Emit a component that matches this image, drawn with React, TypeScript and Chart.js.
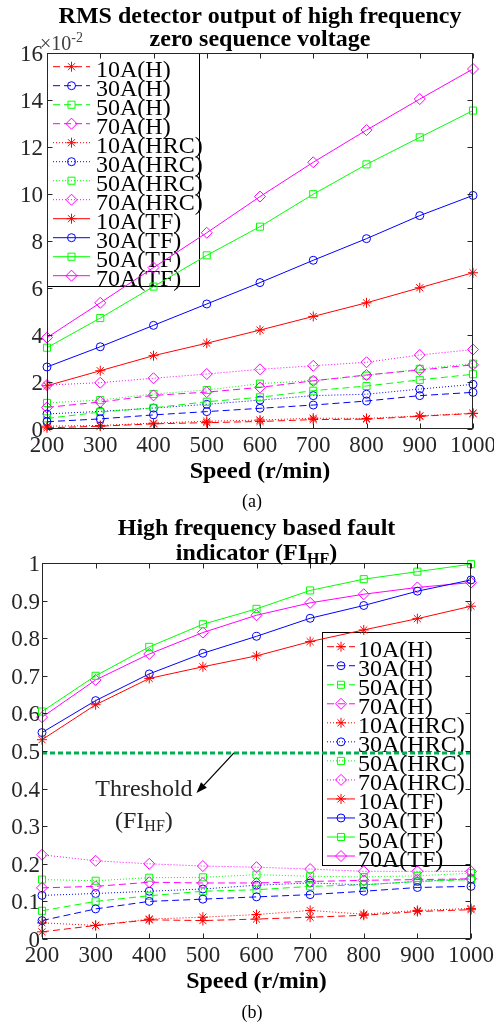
import React, { useEffect, useRef } from 'react';
import { Chart, registerables } from 'chart.js';
import * as helpers from 'chart.js/helpers';

Chart.register(...registerables);

const FONT = "'Liberation Serif', 'Times New Roman', Times, serif";
const AXIS_COLOR = '#262626';

// ---------------- data ----------------
const speeds = [200, 300, 400, 500, 600, 700, 800, 900, 1000];
const seriesLabels = [
  '10A(H)', '30A(H)', '50A(H)', '70A(H)',
  '10A(HRC)', '30A(HRC)', '50A(HRC)', '70A(HRC)',
  '10A(TF)', '30A(TF)', '50A(TF)', '70A(TF)',
];

// (a) RMS detector output of HF zero sequence voltage (x10^-2)
const rms10H = [0.05, 0.12, 0.22, 0.27, 0.32, 0.40, 0.42, 0.54, 0.66];
const rms30H = [0.31, 0.43, 0.60, 0.74, 0.88, 1.02, 1.19, 1.42, 1.56];
const rms50H = [0.45, 0.72, 0.90, 1.16, 1.35, 1.63, 1.83, 2.09, 2.33];
const rms70H = [0.92, 1.15, 1.43, 1.57, 1.77, 2.05, 2.30, 2.51, 2.73];
const rms10HRC = [0.12, 0.15, 0.25, 0.33, 0.38, 0.46, 0.45, 0.56, 0.67];
const rms30HRC = [0.64, 0.75, 0.89, 1.05, 1.23, 1.42, 1.48, 1.70, 1.90];
const rms50HRC = [1.11, 1.23, 1.49, 1.66, 1.93, 2.06, 2.27, 2.56, 2.78];
const rms70HRC = [1.87, 1.97, 2.16, 2.34, 2.54, 2.69, 2.84, 3.15, 3.38];
const rms10TF = [1.84, 2.48, 3.12, 3.65, 4.21, 4.79, 5.37, 6.01, 6.65];
const rms30TF = [2.64, 3.50, 4.41, 5.32, 6.23, 7.18, 8.10, 9.08, 9.94];
const rms50TF = [3.46, 4.72, 6.06, 7.39, 8.61, 9.99, 11.26, 12.41, 13.55];
const rms70TF = [3.89, 5.37, 6.87, 8.35, 9.89, 11.35, 12.72, 14.04, 15.32];

// (b) High frequency based fault indicator FI_HF
const fi10H = [0.019, 0.036, 0.051, 0.049, 0.053, 0.058, 0.063, 0.073, 0.078];
const fi30H = [0.049, 0.080, 0.100, 0.106, 0.112, 0.118, 0.127, 0.137, 0.140];
const fi50H = [0.075, 0.100, 0.115, 0.127, 0.131, 0.140, 0.144, 0.153, 0.158];
const fi70H = [0.136, 0.140, 0.151, 0.149, 0.149, 0.153, 0.156, 0.158, 0.160];
const fi10HRC = [0.043, 0.036, 0.053, 0.058, 0.065, 0.076, 0.066, 0.076, 0.081];
const fi30HRC = [0.116, 0.121, 0.127, 0.133, 0.143, 0.149, 0.144, 0.153, 0.160];
const fi50HRC = [0.158, 0.155, 0.163, 0.164, 0.171, 0.167, 0.165, 0.168, 0.175];
const fi70HRC = [0.224, 0.208, 0.200, 0.194, 0.191, 0.186, 0.180, 0.180, 0.180];
const fi10TF = [0.530, 0.623, 0.693, 0.724, 0.753, 0.791, 0.822, 0.852, 0.885];
const fi30TF = [0.549, 0.634, 0.705, 0.760, 0.805, 0.853, 0.887, 0.925, 0.955];
const fi50TF = [0.605, 0.700, 0.777, 0.837, 0.878, 0.927, 0.957, 0.977, 0.997];
const fi70TF = [0.590, 0.689, 0.758, 0.815, 0.861, 0.894, 0.917, 0.935, 0.948];
const fiThreshold = 0.495;

// tick values
const speedTicks = [200, 300, 400, 500, 600, 700, 800, 900, 1000];
const rmsTicks = [0, 2, 4, 6, 8, 10, 12, 14, 16];
const fiTicks = [0, 0.1, 0.2, 0.3, 0.4, 0.5, 0.6, 0.7, 0.8, 0.9, 1];

// annotation anchors (data coordinates of chart b)
const arrowFrom = { x: 558, y: 0.495 };
const arrowTo = { x: 488, y: 0.388 };
const thresholdLabel1 = { x: 390, y: 0.379 };
const thresholdLabel2 = { x: 390, y: 0.296 };

// ---------------- styles ----------------
const colors = ['#ff0000', '#0000ff', '#00ff00', '#ff00ff'];
const markers = ['star', 'circle', 'rect', 'rectRot'];
const markerRadii = [5, 4, 5, 5.5];
const dashes = [[7, 4], [1, 2], []];

type Seg = { text: string; sub?: boolean };

function makeSeries(values: number[][]) {
  return values.map((vals, i) => {
    const c = i % 4;
    const g = Math.floor(i / 4);
    return {
      type: 'line',
      label: seriesLabels[i],
      data: speeds.map((s, k) => ({ x: s, y: vals[k] })),
      borderColor: colors[c],
      borderWidth: 1,
      borderDash: dashes[g],
      pointStyle: markers[c],
      pointRadius: markerRadii[c],
      pointHoverRadius: markerRadii[c],
      pointBorderColor: colors[c],
      pointBackgroundColor: 'rgba(0,0,0,0)',
      pointBorderWidth: 1,
      fill: false,
      tension: 0,
      clip: false,
      inLegend: true,
    };
  });
}

function drawRich(ctx: CanvasRenderingContext2D, segs: Seg[], cx: number, y: number, size: number, subSize: number, subDrop: number, weight: string, color: string) {
  let total = 0;
  const widths: number[] = [];
  segs.forEach((s) => {
    ctx.font = `${weight} ${s.sub ? subSize : size}px ${FONT}`;
    const w = ctx.measureText(s.text).width;
    widths.push(w);
    total += w;
  });
  let x = cx - total / 2;
  ctx.fillStyle = color;
  ctx.textAlign = 'left';
  ctx.textBaseline = 'alphabetic';
  segs.forEach((s, i) => {
    ctx.font = `${weight} ${s.sub ? subSize : size}px ${FONT}`;
    ctx.fillText(s.text, x, s.sub ? y + subDrop : y);
    x += widths[i];
  });
}

function makePlugin(spec: any) {
  return {
    id: 'frame' + spec.id,
    beforeDatasetsDraw(chart: any) {
      const ctx = chart.ctx as CanvasRenderingContext2D;
      const lg = spec.legend;
      ctx.save();
      ctx.fillStyle = '#ffffff';
      ctx.fillRect(lg.left, lg.top, lg.right - lg.left, lg.bottom - lg.top);
      ctx.strokeStyle = '#000';
      ctx.lineWidth = 1;
      ctx.setLineDash([]);
      ctx.strokeRect(lg.left + 0.5, lg.top + 0.5, lg.right - lg.left - 1, lg.bottom - lg.top - 1);
      let row = 0;
      chart.data.datasets.forEach((ds: any) => {
        if (!ds.inLegend) return;
        const y = lg.rowStart + row * lg.rowStep;
        ctx.strokeStyle = ds.borderColor;
        ctx.lineWidth = 1;
        ctx.setLineDash(ds.borderDash || []);
        ctx.beginPath();
        ctx.moveTo(lg.sampleX0, y);
        ctx.lineTo(lg.sampleX1, y);
        ctx.stroke();
        ctx.setLineDash([]);
        ctx.fillStyle = 'rgba(0,0,0,0)';
        ctx.strokeStyle = ds.pointBorderColor;
        helpers.drawPoint(ctx, { pointStyle: ds.pointStyle, radius: ds.pointRadius, rotation: 0, borderWidth: 1 } as any, (lg.sampleX0 + lg.sampleX1) / 2, y);
        ctx.fillStyle = '#000';
        ctx.font = `24px ${FONT}`;
        ctx.textAlign = 'left';
        ctx.textBaseline = 'alphabetic';
        ctx.fillText(ds.label, lg.textX, y + 10.5);
        row++;
      });
      ctx.restore();
    },
    afterDraw(chart: any) {
      const ctx = chart.ctx as CanvasRenderingContext2D;
      const { left, top, right, bottom } = chart.chartArea;
      const xs = chart.scales.x;
      const ys = chart.scales.y;
      ctx.save();
      ctx.setLineDash([]);
      ctx.strokeStyle = AXIS_COLOR;
      ctx.lineWidth = 1;
      const L = Math.round(left) + 0.5;
      const R = Math.round(right) - 0.5;
      const T = Math.round(top) + 0.5;
      const B = Math.round(bottom) - 0.5;
      ctx.strokeRect(L, T, R - L, B - T);
      const tl = 5;
      ctx.beginPath();
      xs.ticks.forEach((t: any) => {
        const px = Math.round(xs.getPixelForValue(t.value)) + 0.5;
        ctx.moveTo(px, B); ctx.lineTo(px, B - tl);
        ctx.moveTo(px, T); ctx.lineTo(px, T + tl);
      });
      ys.ticks.forEach((t: any) => {
        const py = Math.round(ys.getPixelForValue(t.value)) + 0.5;
        ctx.moveTo(L, py); ctx.lineTo(L + tl, py);
        ctx.moveTo(R, py); ctx.lineTo(R - tl, py);
      });
      ctx.stroke();

      // titles
      const cx = (left + right) / 2;
      spec.titleLines.forEach((line: Seg[], i: number) => {
        drawRich(ctx, line, cx, spec.titleBaselines[i], 24, 16, 4, 'bold', '#000');
      });
      // caption
      drawRich(ctx, [{ text: spec.caption }], 252, spec.captionBaseline, 18, 12, 0, 'normal', '#000');
      if (spec.extra) spec.extra(ctx, chart);
      ctx.restore();
    },
  };
}

function buildConfig(spec: any) {
  return {
    type: 'line',
    data: { datasets: spec.datasets },
    options: {
      responsive: false,
      maintainAspectRatio: false,
      animation: false,
      devicePixelRatio: 1,
      events: [],
      layout: { padding: spec.padding, autoPadding: false },
      plugins: {
        legend: { display: false },
        title: { display: false },
        tooltip: { enabled: false },
      },
      scales: {
        x: {
          type: 'linear',
          min: speedTicks[0],
          max: speedTicks[speedTicks.length - 1],
          grid: { display: false, drawTicks: false },
          border: { display: false },
          ticks: {
            stepSize: speedTicks[1] - speedTicks[0],
            autoSkip: false,
            maxRotation: 0,
            minRotation: 0,
            padding: 3,
            color: AXIS_COLOR,
            font: { family: FONT, size: 23 },
            callback: (v: number) => String(v),
          },
          title: {
            display: true,
            text: 'Speed (r/min)',
            color: '#000',
            font: { family: FONT, size: 24, weight: 'bold' },
            padding: { top: 0, bottom: 0 },
          },
          afterFit: (s: any) => {
            s.height = spec.xHeight;
            s.paddingLeft = 0;
            s.paddingRight = 0;
          },
        },
        y: {
          type: 'linear',
          min: spec.yTicks[0],
          max: spec.yTicks[spec.yTicks.length - 1],
          grid: { display: false, drawTicks: false },
          border: { display: false },
          ticks: {
            stepSize: spec.yTicks[1] - spec.yTicks[0],
            padding: spec.yLabelPad,
            labelOffset: 2,
            color: AXIS_COLOR,
            font: { family: FONT, size: 23 },
            callback: (v: number) => String(Math.round(v * 10) / 10),
          },
          afterFit: (s: any) => {
            s.width = spec.yWidth;
            s.paddingTop = 0;
            s.paddingBottom = 0;
          },
        },
      },
    },
    plugins: [makePlugin(spec)],
  };
}

const specA = {
  id: 'a',
  datasets: makeSeries([
    rms10H, rms30H, rms50H, rms70H,
    rms10HRC, rms30HRC, rms50HRC, rms70HRC,
    rms10TF, rms30TF, rms50TF, rms70TF,
  ]),
  yTicks: rmsTicks,
  padding: { top: 53, left: 0, right: 21, bottom: 29 },
  yWidth: 47,
  xHeight: 57,
  yLabelPad: 4,
  legend: { left: 47, top: 53, right: 200, bottom: 287, rowStart: 66.7, rowStep: 19, sampleX0: 53, sampleX1: 90, textX: 96 },
  titleLines: [
    [{ text: 'RMS detector output of high frequency' }],
    [{ text: 'zero sequence voltage' }],
  ],
  titleBaselines: [22.5, 46],
  caption: '(a)',
  captionBaseline: 507,
  extra: (ctx: CanvasRenderingContext2D) => {
    ctx.fillStyle = '#404040';
    ctx.textAlign = 'left';
    ctx.textBaseline = 'alphabetic';
    ctx.font = `20px ${FONT}`;
    ctx.fillText('\u00d710', 40, 49.5);
    const w = ctx.measureText('\u00d710').width;
    ctx.font = `14px ${FONT}`;
    ctx.fillText('-2', 40 + w, 41.5);
  },
};

const specB = {
  id: 'b',
  datasets: [
    ...makeSeries([
      fi10H, fi30H, fi50H, fi70H,
      fi10HRC, fi30HRC, fi50HRC, fi70HRC,
      fi10TF, fi30TF, fi50TF, fi70TF,
    ]),
    {
      type: 'line',
      label: 'Threshold',
      data: [
        { x: speeds[0], y: fiThreshold },
        { x: speeds[speeds.length - 1], y: fiThreshold },
      ],
      borderColor: '#00b050',
      borderWidth: 3,
      borderDash: [5, 3],
      pointRadius: 0,
      pointHoverRadius: 0,
      fill: false,
      clip: false,
      inLegend: false,
    },
  ],
  yTicks: fiTicks,
  padding: { top: 53, left: 0, right: 23, bottom: 28 },
  yWidth: 42,
  xHeight: 57,
  yLabelPad: 2,
  legend: { left: 322, top: 122, right: 471, bottom: 356, rowStart: 136.7, rowStep: 19.03, sampleX0: 327, sampleX1: 355, textX: 358 },
  titleLines: [
    [{ text: 'High frequency based fault' }],
    [{ text: 'indicator (FI' }, { text: 'HF', sub: true }, { text: ')' }],
  ],
  titleBaselines: [25, 50],
  caption: '(b)',
  captionBaseline: 508,
  extra: (ctx: CanvasRenderingContext2D, chart: any) => {
    const xs = chart.scales.x;
    const ys = chart.scales.y;
    const x0 = xs.getPixelForValue(arrowFrom.x);
    const y0 = ys.getPixelForValue(arrowFrom.y);
    const x1 = xs.getPixelForValue(arrowTo.x);
    const y1 = ys.getPixelForValue(arrowTo.y);
    const ang = Math.atan2(y1 - y0, x1 - x0);
    const hl = 11;
    const hw = 4;
    const bx = x1 - hl * Math.cos(ang);
    const by = y1 - hl * Math.sin(ang);
    ctx.strokeStyle = '#000';
    ctx.fillStyle = '#000';
    ctx.lineWidth = 1.3;
    ctx.beginPath();
    ctx.moveTo(x0, y0);
    ctx.lineTo(bx, by);
    ctx.stroke();
    ctx.beginPath();
    ctx.moveTo(x1, y1);
    ctx.lineTo(bx + hw * Math.sin(ang), by - hw * Math.cos(ang));
    ctx.lineTo(bx - hw * Math.sin(ang), by + hw * Math.cos(ang));
    ctx.closePath();
    ctx.fill();
    drawRich(ctx, [{ text: 'Threshold' }], xs.getPixelForValue(thresholdLabel1.x), ys.getPixelForValue(thresholdLabel1.y), 24, 16, 3, 'normal', '#262626');
    drawRich(ctx, [{ text: '(FI' }, { text: 'HF', sub: true }, { text: ')' }], xs.getPixelForValue(thresholdLabel2.x), ys.getPixelForValue(thresholdLabel2.y), 24, 16, 3, 'normal', '#262626');
  },
};

function ChartCanvas({ spec, top, height }: { spec: any; top: number; height: number }) {
  const ref = useRef<HTMLCanvasElement>(null);
  useEffect(() => {
    if (!ref.current) return;
    const chart = new Chart(ref.current, buildConfig(spec) as any);
    return () => chart.destroy();
  }, [spec]);
  return (
    <div style={{ position: 'absolute', left: 0, top, width: 494, height }}>
      <canvas ref={ref} width={494} height={height} style={{ display: 'block', width: 494, height }} />
    </div>
  );
}

export default function App() {
  return (
    <div style={{ position: 'absolute', left: 0, top: 0, width: 494, height: 1024, background: '#fff', overflow: 'hidden' }}>
      <ChartCanvas spec={specA} top={0} height={515} />
      <ChartCanvas spec={specB} top={510} height={514} />
    </div>
  );
}
